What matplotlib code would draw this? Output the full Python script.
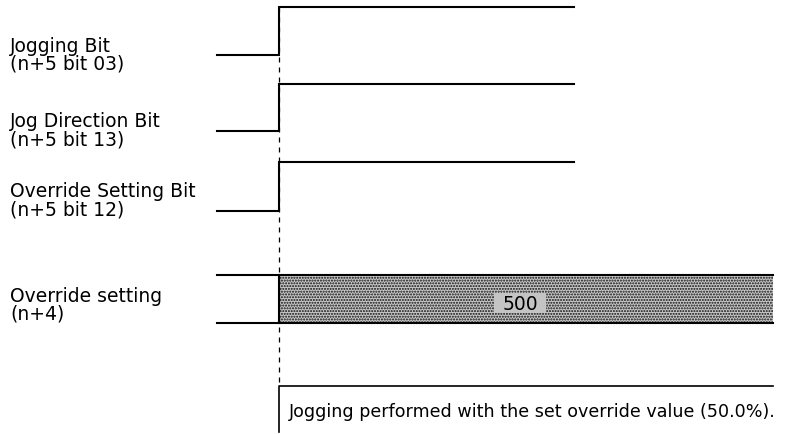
import matplotlib.pyplot as plt
from matplotlib.patches import Rectangle

plt.rcParams['font.family'] = ['DejaVu Sans']

# --- données du chronogramme (abscisses = temps en px, ordonnées = niveaux) ---
signal_labels = [("Jogging Bit", "(n+5 bit 03)"),
                 ("Jog Direction Bit", "(n+5 bit 13)"),
                 ("Override Setting Bit", "(n+5 bit 12)")]
signal_low = [55, 131, 211]
signal_high = [7, 84, 162]
label_base = [52, 127, 197]     # ligne de base du 1er libellé

t_start = 217        # début du tracé
t_on = 279           # front montant (commande)
t_bits_end = 574     # fin des bits
t_end = 773          # fin de la donnée override

data_label = ("Override setting", "(n+4)")
data_label_base = 302
data_top = 275
data_bot = 323
data_value = "500"
value_box = (494, 293, 52, 20)   # x, y, largeur, hauteur

note_y = 386
note_bottom = 432
note_text = "Jogging performed with the set override value (50.0%)."

W, H = 809, 434
LINE = 18            # interligne des libellés
FS = 13.5

fig = plt.figure(figsize=(W / 100, H / 100), dpi=100)
ax = fig.add_axes([0, 0, 1, 1])
ax.set_xlim(0, W)
ax.set_ylim(H, 0)
ax.axis("off")

lw = 1.5
# bits
for (l1, l2), lo, hi, yb in zip(signal_labels, signal_low, signal_high, label_base):
    ax.plot([t_start, t_on, t_on, t_bits_end], [lo, lo, hi, hi],
            color="black", lw=lw, solid_joinstyle="miter")
    ax.text(10, yb, l1, fontsize=FS, va="baseline", ha="left")
    ax.text(10, yb + LINE, l2, fontsize=FS, va="baseline", ha="left")

# donnée override
ax.add_patch(Rectangle((t_on, data_top), t_end - t_on, data_bot - data_top,
                       facecolor="#c8c8c8", edgecolor="#101010",
                       hatch="......", lw=0))
ax.plot([t_start, t_end], [data_top, data_top], color="black", lw=lw)
ax.plot([t_start, t_end], [data_bot, data_bot], color="black", lw=lw)
ax.plot([t_on, t_on], [data_top, data_bot], color="black", lw=lw)
ax.text(10, data_label_base, data_label[0], fontsize=FS, va="baseline")
ax.text(10, data_label_base + LINE, data_label[1], fontsize=FS, va="baseline")

bx, by, bw, bh = value_box
ax.add_patch(Rectangle((bx, by), bw, bh, facecolor="#c4c4c4",
                       edgecolor="none", zorder=3))
ax.text(bx + bw / 2, by + bh / 2 + 1, data_value, fontsize=FS,
        ha="center", va="center", zorder=4)

# ligne pointillée de référence
ax.plot([t_on, t_on], [signal_high[0], note_y], color="black",
        lw=0.9, ls=(0, (4, 4)))

# note
ax.plot([t_on, t_on, t_end], [note_bottom, note_y, note_y],
        color="black", lw=1.2)
ax.text(t_on + 10, 417, note_text, fontsize=12.6, ha="left", va="baseline")

fig.savefig("out.png", dpi=100)
